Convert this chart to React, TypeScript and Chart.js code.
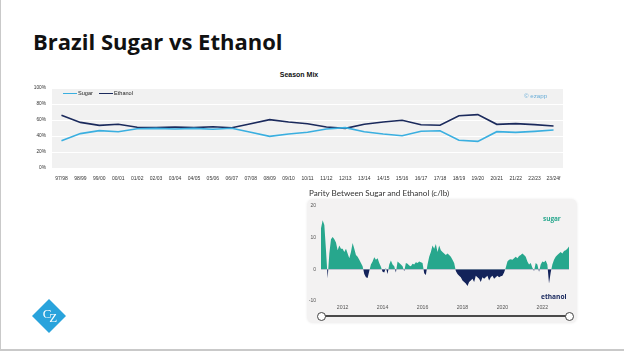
import React, { useEffect, useRef } from "react";
import { Chart, registerables } from "chart.js";

Chart.register(...registerables);

// ---- Season Mix (top chart) ----
const seasons = [
  "97/98", "98/99", "99/00", "00/01", "01/02", "02/03", "03/04", "04/05", "05/06",
  "06/07", "07/08", "08/09", "09/10", "10/11", "11/12", "12/13", "13/14", "14/15",
  "15/16", "16/17", "17/18", "18/19", "19/20", "20/21", "21/22", "22/23", "23/24f",
];
const sugarShare = [
  34, 43, 46.7, 45.4, 49, 49.5, 48.8, 49.5, 48.5, 49.6, 44.6, 39.5, 42.5, 44.6,
  48.8, 50.4, 45.4, 42.5, 40.4, 46, 46.5, 34.6, 33.3, 45.4, 44.5, 45.8, 47.5,
];
const ethanolShare = [
  66, 57, 53.3, 54.6, 51, 50.5, 51.2, 50.5, 51.5, 50.4, 55.4, 60.5, 57.5, 55.4,
  51.2, 49.6, 54.6, 57.5, 59.6, 54, 53.5, 65.4, 66.7, 54.6, 55.5, 54.2, 52.5,
];
const mixTicks = [0, 20, 40, 60, 80, 100];

// ---- Parity between sugar and ethanol (c/lb), monthly from Dec 2010 ----
const parityStartYear = 2010;
const parityStartMonth = 12;
const parityValues = [
  13, 15.5, 14, 6, -2.8, 5, 9.5, 10.2, 9.5, 8.5,
  6, 7.5, 6.5, 6.5, 5.5, 6.5, 5, 3.5, 5.5, 8.3,
  6.5, 4.5, 4, 3, 2, 1, -1.5, -2.5, -2.7, -0.5,
  1.5, 2.5, 3.8, 3, 3.5, 2, 0.8, -0.8, -1, 0.5,
  -1.5, 1.5, 2.8, 1.5, 1, -1, 2.5, 2, 1.5, 1,
  -0.6, 2, 1.8, 1.2, 1, 1.8, 1.5, 2.2, 2, 2.5,
  2.2, 2, -1.2, -1.8, 1.5, 4, 5.5, 7.5, 6.5, 8,
  5.5, 7.5, 6, 5.5, 5, 4.5, 5, 4.5, 4, 3,
  2, -0.5, -1.5, -2, -2.5, -3.5, -4, -4.5, -5.3, -4,
  -3.5, -3, -4, -2, -2.5, -3, -4, -2.5, -3, -2.5,
  -2, -3.5, -2.5, -2, -3, -2.5, -2, -2.5, -2.2, -2,
  -1, 0.5, 2.5, 3, 3.2, 3, 3.5, 4, 3.5, 4.2,
  4.5, 5, 4.5, 4, 2.5, 1.5, 2, 0.5, -0.5, 2,
  1.5, -0.8, 1.5, 2.5, 2.2, 2.8, 1.5, -4.5, -1, 1.5,
  3, 4, 4.5, 5, 5.5, 5, 5.8, 6, 6.5, 7.2,
];
const parityYearTicks = [2012, 2014, 2016, 2018, 2020, 2022];
const parityValueTicks = [-10, 0, 10, 20];

const SUGAR_BLUE = "#3aafe0";
const ETHANOL_NAVY = "#1b2a5c";
const TEAL = "#27a78d";
const NAVY = "#13235a";
const ARIAL = "'Liberation Sans', Arial, sans-serif";

const plotBg = {
  id: "plotBg",
  beforeDraw(chart: any) {
    const a = chart.chartArea;
    if (!a) return;
    const ctx = chart.ctx;
    ctx.save();
    ctx.fillStyle = "#f1f1f1";
    ctx.fillRect(a.left, a.top, a.right - a.left, a.bottom - a.top + 1);
    ctx.restore();
  },
};

function SeasonMixChart() {
  const ref = useRef<HTMLCanvasElement>(null);
  useEffect(() => {
    const chart = new Chart(ref.current!, {
      type: "line",
      data: {
        labels: seasons,
        datasets: [
          {
            label: "Sugar",
            data: sugarShare,
            borderColor: SUGAR_BLUE,
            backgroundColor: SUGAR_BLUE,
            borderWidth: 1.6,
            pointRadius: 0,
            tension: 0,
          },
          {
            label: "Ethanol",
            data: ethanolShare,
            borderColor: ETHANOL_NAVY,
            backgroundColor: ETHANOL_NAVY,
            borderWidth: 1.6,
            pointRadius: 0,
            tension: 0,
          },
        ],
      },
      options: {
        animation: false,
        responsive: false,
        maintainAspectRatio: false,
        layout: { padding: { left: 12, right: 37, top: 18, bottom: 0 } },
        plugins: { legend: { display: false }, tooltip: { enabled: false } },
        scales: {
          x: {
            offset: true,
            grid: { display: false, drawTicks: false },
            border: { display: false },
            ticks: {
              autoSkip: false,
              maxRotation: 0,
              padding: 8,
              color: "#333",
              font: { family: ARIAL, size: 5 },
            },
            afterFit: (s: any) => {
              s.height = 22;
            },
          },
          y: {
            min: 0,
            max: 100,
            grid: { color: "#ffffff", lineWidth: 1, drawTicks: false },
            border: { display: false },
            afterBuildTicks: (s: any) => {
              s.ticks = mixTicks.map((v) => ({ value: v }));
            },
            ticks: {
              padding: 6,
              color: "#333",
              font: { family: ARIAL, size: 4.8 },
              callback: (v: any) => v + "%",
            },
            afterFit: (s: any) => {
              s.width = 40;
            },
          },
        },
      },
      plugins: [plotBg],
    });
    return () => chart.destroy();
  }, []);
  return (
    <canvas
      ref={ref}
      width={600}
      height={120}
      style={{ position: "absolute", left: 0, top: 70, width: 600, height: 120 }}
    />
  );
}

function ParityChart() {
  const ref = useRef<HTMLCanvasElement>(null);
  useEffect(() => {
    const start = parityStartYear + (parityStartMonth - 1) / 12;
    const points = parityValues.map((v, i) => ({ x: start + i / 12, y: v }));
    const chart = new Chart(ref.current!, {
      type: "line",
      data: {
        datasets: [
          {
            label: "Parity",
            data: points,
            borderWidth: 0,
            borderColor: "rgba(0,0,0,0)",
            pointRadius: 0,
            tension: 0,
            fill: { target: "origin", above: TEAL, below: NAVY },
          },
        ],
      },
      options: {
        animation: false,
        responsive: false,
        maintainAspectRatio: false,
        layout: { padding: { left: 0, right: 11, top: 7, bottom: 0 } },
        plugins: { legend: { display: false }, tooltip: { enabled: false } },
        scales: {
          x: {
            type: "linear",
            min: start,
            max: start + (parityValues.length - 1) / 12,
            grid: { display: false, drawTicks: false },
            border: { display: false },
            afterBuildTicks: (s: any) => {
              s.ticks = parityYearTicks.map((v) => ({ value: v }));
            },
            ticks: {
              padding: 3,
              color: "#555",
              font: { family: ARIAL, size: 5.2 },
              callback: (v: any) => String(v),
            },
            afterFit: (s: any) => {
              s.height = 12;
            },
          },
          y: {
            min: -10,
            max: 20,
            grid: { display: false, drawTicks: false },
            border: { display: false },
            afterBuildTicks: (s: any) => {
              s.ticks = parityValueTicks.map((v) => ({ value: v }));
            },
            ticks: {
              padding: 5,
              color: "#555",
              font: { family: ARIAL, size: 5 },
              callback: (v: any) => String(v),
            },
            afterFit: (s: any) => {
              s.width = 21;
            },
          },
        },
      },
    });
    return () => chart.destroy();
  }, []);
  return (
    <canvas
      ref={ref}
      width={280}
      height={115}
      style={{ position: "absolute", left: 300, top: 198, width: 280, height: 115 }}
    />
  );
}

export default function App() {
  const abs = (s: any) => ({ position: "absolute" as const, ...s });
  return (
    <div
      style={{
        position: "fixed",
        left: 0,
        top: 0,
        width: 624,
        height: 352,
        background: "#ffffff",
        overflow: "hidden",
      }}
    >
      {/* slide frame */}
      <div style={abs({ left: 0, top: 0, width: 1, height: 351, background: "#c9c9c9" })} />
      <div style={abs({ left: 0, top: 349, width: 624, height: 2, background: "#c9c9c9" })} />

      {/* slide title */}
      <div
        style={abs({
          left: 33,
          top: 26,
          fontFamily: "'Open Sans', 'Noto Sans', sans-serif",
          fontWeight: 700,
          fontSize: 22,
          color: "#111",
          whiteSpace: "nowrap",
          lineHeight: "30px",
        })}
      >
        Brazil Sugar vs Ethanol
      </div>

      {/* Season Mix */}
      <div
        style={abs({
          left: 240,
          width: 118,
          top: 70,
          textAlign: "center",
          fontFamily: ARIAL,
          fontWeight: 700,
          fontSize: 7,
          color: "#111",
          lineHeight: "10px",
        })}
      >
        Season Mix
      </div>
      <SeasonMixChart />
      {/* in-plot legend */}
      <div style={abs({ left: 63, top: 92.5, width: 14, height: 1.6, background: SUGAR_BLUE })} />
      <div
        style={abs({ left: 78, top: 90, fontFamily: ARIAL, fontSize: 5.6, color: "#222", lineHeight: "7px" })}
      >
        Sugar
      </div>
      <div style={abs({ left: 99, top: 92.5, width: 14, height: 1.6, background: ETHANOL_NAVY })} />
      <div
        style={abs({ left: 114, top: 90, fontFamily: ARIAL, fontSize: 5.6, color: "#222", lineHeight: "7px" })}
      >
        Ethanol
      </div>
      <div
        style={abs({
          left: 524,
          top: 92,
          fontFamily: ARIAL,
          fontSize: 6.2,
          color: "#6aaed8",
          lineHeight: "8px",
          whiteSpace: "nowrap",
        })}
      >
        © ezapp
      </div>

      {/* Parity panel */}
      <div
        style={abs({
          left: 309,
          top: 188,
          fontFamily: "Lato, 'Open Sans', sans-serif",
          fontSize: 8.1,
          color: "#333",
          lineHeight: "10px",
          whiteSpace: "nowrap",
        })}
      >
        Parity Between Sugar and Ethanol (c/lb)
      </div>
      <div
        style={abs({
          left: 307,
          top: 199,
          width: 270,
          height: 124,
          background: "#f3f2f2",
          borderRadius: 6,
          boxShadow: "0 0 3px rgba(0,0,0,0.08)",
        })}
      />
      <ParityChart />
      <div
        style={abs({
          left: 543,
          top: 215,
          fontFamily: "'Open Sans', sans-serif",
          fontWeight: 700,
          fontSize: 6.4,
          color: TEAL,
          lineHeight: "8px",
        })}
      >
        sugar
      </div>
      <div
        style={abs({
          left: 541,
          top: 293,
          fontFamily: "'Open Sans', sans-serif",
          fontWeight: 700,
          fontSize: 6.6,
          color: NAVY,
          lineHeight: "8px",
        })}
      >
        ethanol
      </div>
      {/* range slider */}
      <div style={abs({ left: 322, top: 315, width: 247, height: 2, background: "#4a4a4a" })} />
      <div
        style={abs({
          left: 317,
          top: 311.5,
          width: 7,
          height: 7,
          borderRadius: "50%",
          background: "#fff",
          border: "1.2px solid #444",
        })}
      />
      <div
        style={abs({
          left: 565,
          top: 311.5,
          width: 7,
          height: 7,
          borderRadius: "50%",
          background: "#fff",
          border: "1.2px solid #444",
        })}
      />

      {/* logo */}
      <div
        style={abs({
          left: 37,
          top: 304,
          width: 24,
          height: 24,
          background: "#29a3dc",
          transform: "rotate(45deg)",
        })}
      />
      <div
        style={abs({
          left: 38,
          top: 305,
          width: 22,
          height: 22,
          fontFamily: "'Liberation Serif', 'DejaVu Serif', serif",
          fontSize: 13,
          color: "#fff",
          lineHeight: "22px",
          textAlign: "center",
          letterSpacing: -2,
        })}
      >
        <span style={{ position: "relative", top: -2 }}>C</span>
        <span style={{ position: "relative", top: 2 }}>Z</span>
      </div>
    </div>
  );
}
